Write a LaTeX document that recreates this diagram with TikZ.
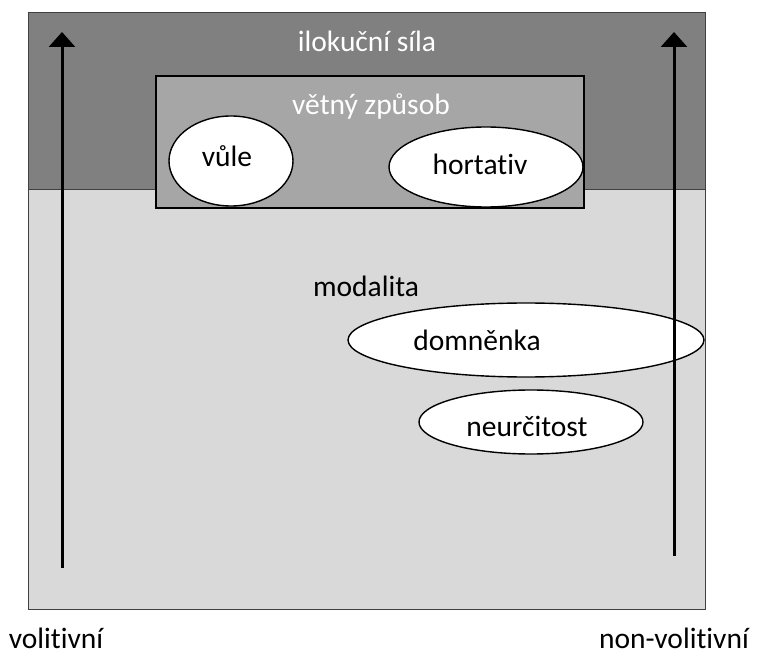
\documentclass[tikz,border=0pt]{standalone}
\usepackage{fontspec}
\setmainfont[Ligatures={NoCommon}]{Carlito}
\usetikzlibrary{arrows.meta,shapes.geometric}
\definecolor{darkband}{RGB}{128,128,128}
\definecolor{midbox}{RGB}{166,166,166}
\definecolor{lightband}{RGB}{217,217,217}
\definecolor{edgegray}{RGB}{64,64,64}
\tikzset{
  txt/.style={font=\fontsize{29.5}{34}\selectfont, anchor=base, inner sep=0pt},
  wtxt/.style={txt, text=white},
  oval/.style={ellipse, draw=black, line width=1.4pt, fill=white, inner sep=0pt},
  bigarrow/.style={line width=3pt, -{Triangle[width=26pt,length=15pt]}},
}
\begin{document}
\begin{tikzpicture}[x=1pt,y=-1pt]
\useasboundingbox (0,0) rectangle (766,655);
% bands
\fill[lightband] (28,190) rectangle (705,609);
\fill[darkband] (28,13) rectangle (705,190);
\draw[edgegray, line width=1pt] (28,13) rectangle (705,609);
\draw[edgegray, line width=1pt] (28,190) -- (705,190);
% inner box
\draw[black, line width=1.5pt, fill=midbox] (156,76) rectangle (584,208);
% ellipses
\node[oval, minimum width=124pt, minimum height=90pt] (vule) at (231,161) {};
\node[oval, minimum width=194pt, minimum height=80pt] (hort) at (486,167) {};
\node[oval, minimum width=356pt, minimum height=74pt] (domn) at (526,340) {};
\node[oval, minimum width=224pt, minimum height=64pt] (neur) at (531,422) {};
% texts
\node[wtxt] (ilok) at (367,52) {ilokuční síla};
\node[wtxt] (vetny) at (371,115) {větný způsob};
\node[txt] (tvule) at (227,167) {vůle};
\node[txt] (thort) at (480,175) {hortativ};
\node[txt] (modal) at (366,297) {modalita};
\node[txt] (tdomn) at (477,350) {domněnka};
\node[txt] (tneur) at (527,436) {neurčitost};
\node[txt] (volit) at (56,648) {volitivní};
\node[txt] (nonvol) at (674,648) {non-volitivní};
% arrows
\coordinate (lb) at (62,568);
\coordinate (lt) at (62,32);
\coordinate (rb) at (674,556);
\coordinate (rt) at (674,32);
\draw[bigarrow] (lb) -- (lt);
\draw[bigarrow] (rb) -- (rt);
\end{tikzpicture}
\end{document}
